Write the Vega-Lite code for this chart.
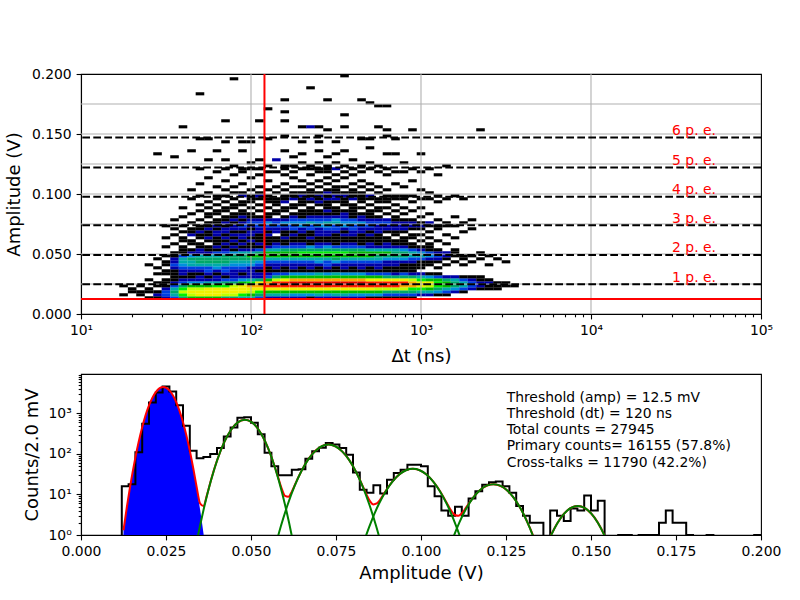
{
  "$schema": "https://vega.github.io/schema/vega-lite/v6.json",
  "padding": {"left": 5, "top": 66, "right": 5, "bottom": 5},
  "background": "white",
  "config": {
    "font": "DejaVu Sans",
    "view": {"stroke": "#000", "strokeWidth": 1.1},
    "axis": {
      "domainColor": "#000", "domainWidth": 1.1,
      "tickColor": "#000", "tickWidth": 1.1, "tickSize": 4.9,
      "labelColor": "#000", "labelFontSize": 13.9, "labelPadding": 4.9,
      "titleColor": "#000", "titleFontSize": 18, "titleFontWeight": "normal",
      "grid": false, "labelOverlap": false, "labelFlush": false
    }
  },
  "datasets": {
    "cells": [
      {"dt":17.8,"amp":0.016,"n":1},{"dt":17.8,"amp":0.0235,"n":1},
      {"dt":20,"amp":0.0185,"n":1},{"dt":20,"amp":0.021,"n":1},
      {"dt":22.4,"amp":0.016,"n":1},{"dt":22.4,"amp":0.0185,"n":1},{"dt":22.4,"amp":0.0235,"n":1},
      {"dt":25.1,"amp":0.0135,"n":1},{"dt":25.1,"amp":0.0185,"n":1},{"dt":25.1,"amp":0.021,"n":1},{"dt":25.1,"amp":0.0285,"n":1},{"dt":25.1,"amp":0.041,"n":1},
      {"dt":28.2,"amp":0.0135,"n":1},{"dt":28.2,"amp":0.016,"n":2},{"dt":28.2,"amp":0.0185,"n":1},{"dt":28.2,"amp":0.0235,"n":1},{"dt":28.2,"amp":0.026,"n":1},{"dt":28.2,"amp":0.0335,"n":1},{"dt":28.2,"amp":0.0385,"n":1},{"dt":28.2,"amp":0.046,"n":1},{"dt":28.2,"amp":0.1335,"n":1},
      {"dt":31.6,"amp":0.0135,"n":2},{"dt":31.6,"amp":0.016,"n":3},{"dt":31.6,"amp":0.0185,"n":3},{"dt":31.6,"amp":0.021,"n":2},{"dt":31.6,"amp":0.0235,"n":1},{"dt":31.6,"amp":0.026,"n":1},{"dt":31.6,"amp":0.0285,"n":1},{"dt":31.6,"amp":0.0335,"n":1},{"dt":31.6,"amp":0.036,"n":1},{"dt":31.6,"amp":0.041,"n":1},{"dt":31.6,"amp":0.0435,"n":1},{"dt":31.6,"amp":0.0485,"n":1},{"dt":31.6,"amp":0.056,"n":1},{"dt":31.6,"amp":0.0635,"n":1},{"dt":31.6,"amp":0.0735,"n":1},
      {"dt":35.5,"amp":0.0135,"n":3},{"dt":35.5,"amp":0.016,"n":6},{"dt":35.5,"amp":0.0185,"n":8},{"dt":35.5,"amp":0.021,"n":5},{"dt":35.5,"amp":0.0235,"n":3},{"dt":35.5,"amp":0.026,"n":2},{"dt":35.5,"amp":0.0285,"n":1},{"dt":35.5,"amp":0.031,"n":1},{"dt":35.5,"amp":0.0335,"n":1},{"dt":35.5,"amp":0.036,"n":1},{"dt":35.5,"amp":0.0385,"n":2},{"dt":35.5,"amp":0.041,"n":3},{"dt":35.5,"amp":0.0435,"n":2},{"dt":35.5,"amp":0.046,"n":2},{"dt":35.5,"amp":0.0485,"n":1},{"dt":35.5,"amp":0.051,"n":1},{"dt":35.5,"amp":0.0585,"n":1},{"dt":35.5,"amp":0.066,"n":1},{"dt":35.5,"amp":0.071,"n":1},{"dt":35.5,"amp":0.0785,"n":1},{"dt":35.5,"amp":0.131,"n":1},
      {"dt":39.8,"amp":0.0135,"n":8},{"dt":39.8,"amp":0.016,"n":16},{"dt":39.8,"amp":0.0185,"n":20},{"dt":39.8,"amp":0.021,"n":15},{"dt":39.8,"amp":0.0235,"n":7},{"dt":39.8,"amp":0.026,"n":3},{"dt":39.8,"amp":0.0285,"n":2},{"dt":39.8,"amp":0.031,"n":1},{"dt":39.8,"amp":0.0335,"n":2},{"dt":39.8,"amp":0.036,"n":2},{"dt":39.8,"amp":0.0385,"n":3},{"dt":39.8,"amp":0.041,"n":4},{"dt":39.8,"amp":0.0435,"n":5},{"dt":39.8,"amp":0.046,"n":5},{"dt":39.8,"amp":0.0485,"n":3},{"dt":39.8,"amp":0.051,"n":1},{"dt":39.8,"amp":0.0535,"n":1},{"dt":39.8,"amp":0.056,"n":1},{"dt":39.8,"amp":0.061,"n":1},{"dt":39.8,"amp":0.0635,"n":1},{"dt":39.8,"amp":0.0685,"n":1},{"dt":39.8,"amp":0.0735,"n":1},{"dt":39.8,"amp":0.081,"n":1},{"dt":39.8,"amp":0.0885,"n":1},{"dt":39.8,"amp":0.156,"n":1},
      {"dt":44.7,"amp":0.0135,"n":10},{"dt":44.7,"amp":0.016,"n":22},{"dt":44.7,"amp":0.0185,"n":26},{"dt":44.7,"amp":0.021,"n":20},{"dt":44.7,"amp":0.0235,"n":10},{"dt":44.7,"amp":0.026,"n":4},{"dt":44.7,"amp":0.0285,"n":2},{"dt":44.7,"amp":0.031,"n":1},{"dt":44.7,"amp":0.0335,"n":1},{"dt":44.7,"amp":0.036,"n":2},{"dt":44.7,"amp":0.0385,"n":3},{"dt":44.7,"amp":0.041,"n":5},{"dt":44.7,"amp":0.0435,"n":6},{"dt":44.7,"amp":0.046,"n":7},{"dt":44.7,"amp":0.0485,"n":4},{"dt":44.7,"amp":0.051,"n":2},{"dt":44.7,"amp":0.0535,"n":1},{"dt":44.7,"amp":0.0585,"n":1},{"dt":44.7,"amp":0.061,"n":1},{"dt":44.7,"amp":0.066,"n":2},{"dt":44.7,"amp":0.0685,"n":1},{"dt":44.7,"amp":0.071,"n":1},{"dt":44.7,"amp":0.076,"n":1},{"dt":44.7,"amp":0.0835,"n":1},{"dt":44.7,"amp":0.096,"n":1},{"dt":44.7,"amp":0.1035,"n":1},{"dt":44.7,"amp":0.136,"n":1},
      {"dt":50.1,"amp":0.0135,"n":12},{"dt":50.1,"amp":0.016,"n":25},{"dt":50.1,"amp":0.0185,"n":28},{"dt":50.1,"amp":0.021,"n":22},{"dt":50.1,"amp":0.0235,"n":12},{"dt":50.1,"amp":0.026,"n":4},{"dt":50.1,"amp":0.0285,"n":2},{"dt":50.1,"amp":0.031,"n":2},{"dt":50.1,"amp":0.0335,"n":1},{"dt":50.1,"amp":0.036,"n":2},{"dt":50.1,"amp":0.0385,"n":3},{"dt":50.1,"amp":0.041,"n":5},{"dt":50.1,"amp":0.0435,"n":7},{"dt":50.1,"amp":0.046,"n":8},{"dt":50.1,"amp":0.0485,"n":5},{"dt":50.1,"amp":0.051,"n":2},{"dt":50.1,"amp":0.0535,"n":2},{"dt":50.1,"amp":0.056,"n":1},{"dt":50.1,"amp":0.0585,"n":1},{"dt":50.1,"amp":0.0635,"n":1},{"dt":50.1,"amp":0.066,"n":1},{"dt":50.1,"amp":0.0685,"n":2},{"dt":50.1,"amp":0.071,"n":1},{"dt":50.1,"amp":0.0735,"n":1},{"dt":50.1,"amp":0.0785,"n":1},{"dt":50.1,"amp":0.086,"n":1},{"dt":50.1,"amp":0.091,"n":1},{"dt":50.1,"amp":0.0985,"n":1},{"dt":50.1,"amp":0.1085,"n":1},{"dt":50.1,"amp":0.121,"n":1},{"dt":50.1,"amp":0.146,"n":1},{"dt":50.1,"amp":0.1835,"n":1},
      {"dt":56.2,"amp":0.0135,"n":12},{"dt":56.2,"amp":0.016,"n":26},{"dt":56.2,"amp":0.0185,"n":30},{"dt":56.2,"amp":0.021,"n":25},{"dt":56.2,"amp":0.0235,"n":14},{"dt":56.2,"amp":0.026,"n":5},{"dt":56.2,"amp":0.0285,"n":2},{"dt":56.2,"amp":0.031,"n":1},{"dt":56.2,"amp":0.0335,"n":2},{"dt":56.2,"amp":0.036,"n":3},{"dt":56.2,"amp":0.0385,"n":3},{"dt":56.2,"amp":0.041,"n":5},{"dt":56.2,"amp":0.0435,"n":7},{"dt":56.2,"amp":0.046,"n":9},{"dt":56.2,"amp":0.0485,"n":6},{"dt":56.2,"amp":0.051,"n":2},{"dt":56.2,"amp":0.0535,"n":1},{"dt":56.2,"amp":0.056,"n":1},{"dt":56.2,"amp":0.061,"n":1},{"dt":56.2,"amp":0.0635,"n":2},{"dt":56.2,"amp":0.066,"n":1},{"dt":56.2,"amp":0.0685,"n":1},{"dt":56.2,"amp":0.071,"n":2},{"dt":56.2,"amp":0.0735,"n":1},{"dt":56.2,"amp":0.076,"n":1},{"dt":56.2,"amp":0.081,"n":1},{"dt":56.2,"amp":0.0835,"n":1},{"dt":56.2,"amp":0.0885,"n":1},{"dt":56.2,"amp":0.0935,"n":1},{"dt":56.2,"amp":0.101,"n":1},{"dt":56.2,"amp":0.1135,"n":1},{"dt":56.2,"amp":0.1285,"n":1},{"dt":56.2,"amp":0.146,"n":1},
      {"dt":63.1,"amp":0.0135,"n":10},{"dt":63.1,"amp":0.016,"n":25},{"dt":63.1,"amp":0.0185,"n":30},{"dt":63.1,"amp":0.021,"n":26},{"dt":63.1,"amp":0.0235,"n":15},{"dt":63.1,"amp":0.026,"n":6},{"dt":63.1,"amp":0.0285,"n":2},{"dt":63.1,"amp":0.031,"n":2},{"dt":63.1,"amp":0.0335,"n":1},{"dt":63.1,"amp":0.036,"n":2},{"dt":63.1,"amp":0.0385,"n":4},{"dt":63.1,"amp":0.041,"n":5},{"dt":63.1,"amp":0.0435,"n":7},{"dt":63.1,"amp":0.046,"n":8},{"dt":63.1,"amp":0.0485,"n":6},{"dt":63.1,"amp":0.051,"n":3},{"dt":63.1,"amp":0.0535,"n":1},{"dt":63.1,"amp":0.056,"n":2},{"dt":63.1,"amp":0.0585,"n":1},{"dt":63.1,"amp":0.061,"n":1},{"dt":63.1,"amp":0.0635,"n":1},{"dt":63.1,"amp":0.066,"n":2},{"dt":63.1,"amp":0.0685,"n":2},{"dt":63.1,"amp":0.071,"n":1},{"dt":63.1,"amp":0.0735,"n":2},{"dt":63.1,"amp":0.076,"n":1},{"dt":63.1,"amp":0.0785,"n":1},{"dt":63.1,"amp":0.0835,"n":1},{"dt":63.1,"amp":0.086,"n":1},{"dt":63.1,"amp":0.091,"n":1},{"dt":63.1,"amp":0.096,"n":1},{"dt":63.1,"amp":0.0985,"n":1},{"dt":63.1,"amp":0.106,"n":1},{"dt":63.1,"amp":0.1185,"n":1},{"dt":63.1,"amp":0.136,"n":1},
      {"dt":70.8,"amp":0.0135,"n":9},{"dt":70.8,"amp":0.016,"n":22},{"dt":70.8,"amp":0.0185,"n":30},{"dt":70.8,"amp":0.021,"n":28},{"dt":70.8,"amp":0.0235,"n":18},{"dt":70.8,"amp":0.026,"n":7},{"dt":70.8,"amp":0.0285,"n":3},{"dt":70.8,"amp":0.031,"n":1},{"dt":70.8,"amp":0.0335,"n":2},{"dt":70.8,"amp":0.036,"n":3},{"dt":70.8,"amp":0.0385,"n":3},{"dt":70.8,"amp":0.041,"n":5},{"dt":70.8,"amp":0.0435,"n":7},{"dt":70.8,"amp":0.046,"n":9},{"dt":70.8,"amp":0.0485,"n":7},{"dt":70.8,"amp":0.051,"n":3},{"dt":70.8,"amp":0.0535,"n":2},{"dt":70.8,"amp":0.056,"n":1},{"dt":70.8,"amp":0.0585,"n":2},{"dt":70.8,"amp":0.061,"n":1},{"dt":70.8,"amp":0.0635,"n":2},{"dt":70.8,"amp":0.066,"n":1},{"dt":70.8,"amp":0.0685,"n":2},{"dt":70.8,"amp":0.071,"n":2},{"dt":70.8,"amp":0.0735,"n":1},{"dt":70.8,"amp":0.076,"n":2},{"dt":70.8,"amp":0.0785,"n":1},{"dt":70.8,"amp":0.081,"n":1},{"dt":70.8,"amp":0.086,"n":1},{"dt":70.8,"amp":0.0885,"n":1},{"dt":70.8,"amp":0.0935,"n":1},{"dt":70.8,"amp":0.0985,"n":1},{"dt":70.8,"amp":0.1035,"n":1},{"dt":70.8,"amp":0.111,"n":1},{"dt":70.8,"amp":0.121,"n":1},{"dt":70.8,"amp":0.1285,"n":1},{"dt":70.8,"amp":0.1435,"n":1},{"dt":70.8,"amp":0.161,"n":1},
      {"dt":79.4,"amp":0.0135,"n":7},{"dt":79.4,"amp":0.016,"n":20},{"dt":79.4,"amp":0.0185,"n":28},{"dt":79.4,"amp":0.021,"n":30},{"dt":79.4,"amp":0.0235,"n":22},{"dt":79.4,"amp":0.026,"n":9},{"dt":79.4,"amp":0.0285,"n":3},{"dt":79.4,"amp":0.031,"n":2},{"dt":79.4,"amp":0.0335,"n":2},{"dt":79.4,"amp":0.036,"n":2},{"dt":79.4,"amp":0.0385,"n":3},{"dt":79.4,"amp":0.041,"n":4},{"dt":79.4,"amp":0.0435,"n":6},{"dt":79.4,"amp":0.046,"n":9},{"dt":79.4,"amp":0.0485,"n":8},{"dt":79.4,"amp":0.051,"n":4},{"dt":79.4,"amp":0.0535,"n":1},{"dt":79.4,"amp":0.056,"n":2},{"dt":79.4,"amp":0.0585,"n":1},{"dt":79.4,"amp":0.061,"n":2},{"dt":79.4,"amp":0.0635,"n":1},{"dt":79.4,"amp":0.066,"n":2},{"dt":79.4,"amp":0.0685,"n":1},{"dt":79.4,"amp":0.071,"n":2},{"dt":79.4,"amp":0.0735,"n":2},{"dt":79.4,"amp":0.076,"n":1},{"dt":79.4,"amp":0.0785,"n":2},{"dt":79.4,"amp":0.081,"n":1},{"dt":79.4,"amp":0.0835,"n":1},{"dt":79.4,"amp":0.0885,"n":1},{"dt":79.4,"amp":0.091,"n":1},{"dt":79.4,"amp":0.096,"n":1},{"dt":79.4,"amp":0.101,"n":1},{"dt":79.4,"amp":0.106,"n":1},{"dt":79.4,"amp":0.116,"n":1},{"dt":79.4,"amp":0.1235,"n":1},{"dt":79.4,"amp":0.196,"n":1},
      {"dt":89.1,"amp":0.0135,"n":6},{"dt":89.1,"amp":0.016,"n":15},{"dt":89.1,"amp":0.0185,"n":26},{"dt":89.1,"amp":0.021,"n":32},{"dt":89.1,"amp":0.0235,"n":28},{"dt":89.1,"amp":0.026,"n":12},{"dt":89.1,"amp":0.0285,"n":4},{"dt":89.1,"amp":0.031,"n":2},{"dt":89.1,"amp":0.0335,"n":1},{"dt":89.1,"amp":0.036,"n":2},{"dt":89.1,"amp":0.0385,"n":3},{"dt":89.1,"amp":0.041,"n":4},{"dt":89.1,"amp":0.0435,"n":6},{"dt":89.1,"amp":0.046,"n":9},{"dt":89.1,"amp":0.0485,"n":9},{"dt":89.1,"amp":0.051,"n":5},{"dt":89.1,"amp":0.0535,"n":2},{"dt":89.1,"amp":0.056,"n":1},{"dt":89.1,"amp":0.0585,"n":2},{"dt":89.1,"amp":0.061,"n":1},{"dt":89.1,"amp":0.0635,"n":2},{"dt":89.1,"amp":0.066,"n":2},{"dt":89.1,"amp":0.0685,"n":1},{"dt":89.1,"amp":0.071,"n":2},{"dt":89.1,"amp":0.0735,"n":3},{"dt":89.1,"amp":0.076,"n":2},{"dt":89.1,"amp":0.0785,"n":1},{"dt":89.1,"amp":0.081,"n":2},{"dt":89.1,"amp":0.0835,"n":1},{"dt":89.1,"amp":0.086,"n":1},{"dt":89.1,"amp":0.091,"n":1},{"dt":89.1,"amp":0.0935,"n":1},{"dt":89.1,"amp":0.0985,"n":2},{"dt":89.1,"amp":0.101,"n":1},{"dt":89.1,"amp":0.1085,"n":1},{"dt":89.1,"amp":0.1185,"n":1},{"dt":89.1,"amp":0.121,"n":1},{"dt":89.1,"amp":0.136,"n":1},{"dt":89.1,"amp":0.1435,"n":1},
      {"dt":100,"amp":0.0135,"n":5},{"dt":100,"amp":0.016,"n":12},{"dt":100,"amp":0.0185,"n":22},{"dt":100,"amp":0.021,"n":33},{"dt":100,"amp":0.0235,"n":36},{"dt":100,"amp":0.026,"n":18},{"dt":100,"amp":0.0285,"n":5},{"dt":100,"amp":0.031,"n":2},{"dt":100,"amp":0.0335,"n":2},{"dt":100,"amp":0.036,"n":2},{"dt":100,"amp":0.0385,"n":2},{"dt":100,"amp":0.041,"n":4},{"dt":100,"amp":0.0435,"n":5},{"dt":100,"amp":0.046,"n":8},{"dt":100,"amp":0.0485,"n":10},{"dt":100,"amp":0.051,"n":6},{"dt":100,"amp":0.0535,"n":2},{"dt":100,"amp":0.056,"n":1},{"dt":100,"amp":0.0585,"n":1},{"dt":100,"amp":0.061,"n":2},{"dt":100,"amp":0.0635,"n":1},{"dt":100,"amp":0.066,"n":2},{"dt":100,"amp":0.0685,"n":2},{"dt":100,"amp":0.071,"n":1},{"dt":100,"amp":0.0735,"n":2},{"dt":100,"amp":0.076,"n":3},{"dt":100,"amp":0.0785,"n":2},{"dt":100,"amp":0.081,"n":1},{"dt":100,"amp":0.0835,"n":1},{"dt":100,"amp":0.0885,"n":1},{"dt":100,"amp":0.0935,"n":1},{"dt":100,"amp":0.096,"n":1},{"dt":100,"amp":0.0985,"n":1},{"dt":100,"amp":0.1035,"n":1},{"dt":100,"amp":0.1135,"n":1},{"dt":100,"amp":0.121,"n":1},{"dt":100,"amp":0.126,"n":1},{"dt":100,"amp":0.1435,"n":1},
      {"dt":112,"amp":0.0135,"n":3},{"dt":112,"amp":0.016,"n":8},{"dt":112,"amp":0.0185,"n":18},{"dt":112,"amp":0.021,"n":32},{"dt":112,"amp":0.0235,"n":42},{"dt":112,"amp":0.026,"n":26},{"dt":112,"amp":0.0285,"n":7},{"dt":112,"amp":0.031,"n":2},{"dt":112,"amp":0.0335,"n":2},{"dt":112,"amp":0.036,"n":1},{"dt":112,"amp":0.0385,"n":2},{"dt":112,"amp":0.041,"n":3},{"dt":112,"amp":0.0435,"n":4},{"dt":112,"amp":0.046,"n":7},{"dt":112,"amp":0.0485,"n":10},{"dt":112,"amp":0.051,"n":8},{"dt":112,"amp":0.0535,"n":3},{"dt":112,"amp":0.056,"n":1},{"dt":112,"amp":0.0585,"n":2},{"dt":112,"amp":0.061,"n":1},{"dt":112,"amp":0.0635,"n":1},{"dt":112,"amp":0.066,"n":1},{"dt":112,"amp":0.0685,"n":2},{"dt":112,"amp":0.071,"n":2},{"dt":112,"amp":0.0735,"n":3},{"dt":112,"amp":0.076,"n":3},{"dt":112,"amp":0.0785,"n":2},{"dt":112,"amp":0.081,"n":1},{"dt":112,"amp":0.086,"n":1},{"dt":112,"amp":0.091,"n":1},{"dt":112,"amp":0.096,"n":1},{"dt":112,"amp":0.0985,"n":2},{"dt":112,"amp":0.101,"n":1},{"dt":112,"amp":0.106,"n":1},{"dt":112,"amp":0.116,"n":1},{"dt":112,"amp":0.121,"n":1},{"dt":112,"amp":0.1285,"n":1},{"dt":112,"amp":0.161,"n":1},
      {"dt":126,"amp":0.0135,"n":2},{"dt":126,"amp":0.016,"n":5},{"dt":126,"amp":0.0185,"n":14},{"dt":126,"amp":0.021,"n":30},{"dt":126,"amp":0.0235,"n":50},{"dt":126,"amp":0.026,"n":38},{"dt":126,"amp":0.0285,"n":12},{"dt":126,"amp":0.031,"n":3},{"dt":126,"amp":0.0335,"n":2},{"dt":126,"amp":0.036,"n":1},{"dt":126,"amp":0.0385,"n":1},{"dt":126,"amp":0.041,"n":2},{"dt":126,"amp":0.0435,"n":3},{"dt":126,"amp":0.046,"n":6},{"dt":126,"amp":0.0485,"n":10},{"dt":126,"amp":0.051,"n":11},{"dt":126,"amp":0.0535,"n":5},{"dt":126,"amp":0.056,"n":2},{"dt":126,"amp":0.0585,"n":1},{"dt":126,"amp":0.061,"n":1},{"dt":126,"amp":0.0635,"n":1},{"dt":126,"amp":0.066,"n":2},{"dt":126,"amp":0.0685,"n":1},{"dt":126,"amp":0.071,"n":2},{"dt":126,"amp":0.0735,"n":3},{"dt":126,"amp":0.076,"n":4},{"dt":126,"amp":0.0785,"n":2},{"dt":126,"amp":0.081,"n":1},{"dt":126,"amp":0.0835,"n":1},{"dt":126,"amp":0.0885,"n":1},{"dt":126,"amp":0.0935,"n":1},{"dt":126,"amp":0.096,"n":1},{"dt":126,"amp":0.0985,"n":1},{"dt":126,"amp":0.1035,"n":1},{"dt":126,"amp":0.111,"n":1},{"dt":126,"amp":0.1185,"n":1},{"dt":126,"amp":0.1235,"n":1},{"dt":126,"amp":0.146,"n":1},{"dt":126,"amp":0.171,"n":1},
      {"dt":141,"amp":0.0135,"n":2},{"dt":141,"amp":0.016,"n":5},{"dt":141,"amp":0.0185,"n":13},{"dt":141,"amp":0.021,"n":28},{"dt":141,"amp":0.0235,"n":48},{"dt":141,"amp":0.026,"n":46},{"dt":141,"amp":0.0285,"n":22},{"dt":141,"amp":0.031,"n":8},{"dt":141,"amp":0.0335,"n":3},{"dt":141,"amp":0.036,"n":1},{"dt":141,"amp":0.0385,"n":2},{"dt":141,"amp":0.041,"n":2},{"dt":141,"amp":0.0435,"n":3},{"dt":141,"amp":0.046,"n":5},{"dt":141,"amp":0.0485,"n":10},{"dt":141,"amp":0.051,"n":11},{"dt":141,"amp":0.0535,"n":6},{"dt":141,"amp":0.056,"n":3},{"dt":141,"amp":0.0585,"n":2},{"dt":141,"amp":0.061,"n":1},{"dt":141,"amp":0.0635,"n":1},{"dt":141,"amp":0.0685,"n":2},{"dt":141,"amp":0.071,"n":2},{"dt":141,"amp":0.0735,"n":3},{"dt":141,"amp":0.076,"n":3},{"dt":141,"amp":0.0785,"n":2},{"dt":141,"amp":0.0835,"n":1},{"dt":141,"amp":0.086,"n":1},{"dt":141,"amp":0.091,"n":1},{"dt":141,"amp":0.0935,"n":1},{"dt":141,"amp":0.096,"n":1},{"dt":141,"amp":0.101,"n":1},{"dt":141,"amp":0.106,"n":1},{"dt":141,"amp":0.1185,"n":1},{"dt":141,"amp":0.1285,"n":2},
      {"dt":158,"amp":0.0135,"n":2},{"dt":158,"amp":0.016,"n":5},{"dt":158,"amp":0.0185,"n":12},{"dt":158,"amp":0.021,"n":27},{"dt":158,"amp":0.0235,"n":52},{"dt":158,"amp":0.026,"n":56},{"dt":158,"amp":0.0285,"n":30},{"dt":158,"amp":0.031,"n":10},{"dt":158,"amp":0.0335,"n":3},{"dt":158,"amp":0.036,"n":1},{"dt":158,"amp":0.0385,"n":1},{"dt":158,"amp":0.041,"n":2},{"dt":158,"amp":0.0435,"n":3},{"dt":158,"amp":0.046,"n":5},{"dt":158,"amp":0.0485,"n":11},{"dt":158,"amp":0.051,"n":12},{"dt":158,"amp":0.0535,"n":7},{"dt":158,"amp":0.056,"n":3},{"dt":158,"amp":0.0585,"n":1},{"dt":158,"amp":0.061,"n":1},{"dt":158,"amp":0.0635,"n":2},{"dt":158,"amp":0.066,"n":1},{"dt":158,"amp":0.0685,"n":1},{"dt":158,"amp":0.071,"n":2},{"dt":158,"amp":0.0735,"n":3},{"dt":158,"amp":0.076,"n":4},{"dt":158,"amp":0.0785,"n":2},{"dt":158,"amp":0.081,"n":1},{"dt":158,"amp":0.086,"n":1},{"dt":158,"amp":0.0885,"n":1},{"dt":158,"amp":0.0935,"n":2},{"dt":158,"amp":0.096,"n":1},{"dt":158,"amp":0.0985,"n":1},{"dt":158,"amp":0.1035,"n":1},{"dt":158,"amp":0.1085,"n":1},{"dt":158,"amp":0.116,"n":1},{"dt":158,"amp":0.121,"n":1},{"dt":158,"amp":0.1235,"n":1},{"dt":158,"amp":0.136,"n":1},{"dt":158,"amp":0.1485,"n":1},{"dt":158,"amp":0.161,"n":1},{"dt":158,"amp":0.1685,"n":1},{"dt":158,"amp":0.1785,"n":1},
      {"dt":178,"amp":0.0135,"n":2},{"dt":178,"amp":0.016,"n":4},{"dt":178,"amp":0.0185,"n":12},{"dt":178,"amp":0.021,"n":26},{"dt":178,"amp":0.0235,"n":54},{"dt":178,"amp":0.026,"n":62},{"dt":178,"amp":0.0285,"n":36},{"dt":178,"amp":0.031,"n":12},{"dt":178,"amp":0.0335,"n":4},{"dt":178,"amp":0.036,"n":1},{"dt":178,"amp":0.0385,"n":2},{"dt":178,"amp":0.041,"n":2},{"dt":178,"amp":0.0435,"n":3},{"dt":178,"amp":0.046,"n":6},{"dt":178,"amp":0.0485,"n":10},{"dt":178,"amp":0.051,"n":14},{"dt":178,"amp":0.0535,"n":8},{"dt":178,"amp":0.056,"n":3},{"dt":178,"amp":0.0585,"n":2},{"dt":178,"amp":0.061,"n":1},{"dt":178,"amp":0.0635,"n":1},{"dt":178,"amp":0.066,"n":2},{"dt":178,"amp":0.0685,"n":1},{"dt":178,"amp":0.071,"n":3},{"dt":178,"amp":0.0735,"n":3},{"dt":178,"amp":0.076,"n":4},{"dt":178,"amp":0.0785,"n":3},{"dt":178,"amp":0.081,"n":2},{"dt":178,"amp":0.0835,"n":1},{"dt":178,"amp":0.0885,"n":1},{"dt":178,"amp":0.091,"n":1},{"dt":178,"amp":0.096,"n":2},{"dt":178,"amp":0.0985,"n":1},{"dt":178,"amp":0.101,"n":1},{"dt":178,"amp":0.106,"n":1},{"dt":178,"amp":0.1135,"n":1},{"dt":178,"amp":0.1185,"n":1},{"dt":178,"amp":0.1235,"n":1},{"dt":178,"amp":0.131,"n":1},
      {"dt":200,"amp":0.0135,"n":2},{"dt":200,"amp":0.016,"n":4},{"dt":200,"amp":0.0185,"n":11},{"dt":200,"amp":0.021,"n":27},{"dt":200,"amp":0.0235,"n":56},{"dt":200,"amp":0.026,"n":66},{"dt":200,"amp":0.0285,"n":38},{"dt":200,"amp":0.031,"n":12},{"dt":200,"amp":0.0335,"n":4},{"dt":200,"amp":0.036,"n":1},{"dt":200,"amp":0.0385,"n":1},{"dt":200,"amp":0.041,"n":2},{"dt":200,"amp":0.0435,"n":3},{"dt":200,"amp":0.046,"n":6},{"dt":200,"amp":0.0485,"n":11},{"dt":200,"amp":0.051,"n":15},{"dt":200,"amp":0.0535,"n":8},{"dt":200,"amp":0.056,"n":3},{"dt":200,"amp":0.0585,"n":2},{"dt":200,"amp":0.061,"n":1},{"dt":200,"amp":0.0635,"n":1},{"dt":200,"amp":0.066,"n":1},{"dt":200,"amp":0.0685,"n":2},{"dt":200,"amp":0.071,"n":2},{"dt":200,"amp":0.0735,"n":4},{"dt":200,"amp":0.076,"n":4},{"dt":200,"amp":0.0785,"n":3},{"dt":200,"amp":0.081,"n":1},{"dt":200,"amp":0.0835,"n":1},{"dt":200,"amp":0.086,"n":1},{"dt":200,"amp":0.091,"n":1},{"dt":200,"amp":0.0935,"n":1},{"dt":200,"amp":0.096,"n":1},{"dt":200,"amp":0.0985,"n":2},{"dt":200,"amp":0.101,"n":1},{"dt":200,"amp":0.106,"n":1},{"dt":200,"amp":0.111,"n":1},{"dt":200,"amp":0.121,"n":1},{"dt":200,"amp":0.126,"n":1},{"dt":200,"amp":0.1335,"n":1},{"dt":200,"amp":0.1435,"n":1},{"dt":200,"amp":0.156,"n":1},
      {"dt":224,"amp":0.0135,"n":1},{"dt":224,"amp":0.016,"n":4},{"dt":224,"amp":0.0185,"n":11},{"dt":224,"amp":0.021,"n":28},{"dt":224,"amp":0.0235,"n":58},{"dt":224,"amp":0.026,"n":68},{"dt":224,"amp":0.0285,"n":40},{"dt":224,"amp":0.031,"n":13},{"dt":224,"amp":0.0335,"n":4},{"dt":224,"amp":0.036,"n":1},{"dt":224,"amp":0.0385,"n":2},{"dt":224,"amp":0.041,"n":2},{"dt":224,"amp":0.0435,"n":3},{"dt":224,"amp":0.046,"n":5},{"dt":224,"amp":0.0485,"n":12},{"dt":224,"amp":0.051,"n":16},{"dt":224,"amp":0.0535,"n":9},{"dt":224,"amp":0.056,"n":4},{"dt":224,"amp":0.0585,"n":1},{"dt":224,"amp":0.061,"n":1},{"dt":224,"amp":0.0635,"n":2},{"dt":224,"amp":0.066,"n":1},{"dt":224,"amp":0.0685,"n":1},{"dt":224,"amp":0.071,"n":3},{"dt":224,"amp":0.0735,"n":3},{"dt":224,"amp":0.076,"n":5},{"dt":224,"amp":0.0785,"n":3},{"dt":224,"amp":0.081,"n":2},{"dt":224,"amp":0.0835,"n":1},{"dt":224,"amp":0.086,"n":1},{"dt":224,"amp":0.0885,"n":1},{"dt":224,"amp":0.0935,"n":1},{"dt":224,"amp":0.096,"n":2},{"dt":224,"amp":0.0985,"n":1},{"dt":224,"amp":0.101,"n":1},{"dt":224,"amp":0.1035,"n":1},{"dt":224,"amp":0.1085,"n":1},{"dt":224,"amp":0.116,"n":1},{"dt":224,"amp":0.121,"n":1},{"dt":224,"amp":0.1235,"n":1},{"dt":224,"amp":0.156,"n":2},{"dt":224,"amp":0.1885,"n":1},
      {"dt":251,"amp":0.0135,"n":2},{"dt":251,"amp":0.016,"n":5},{"dt":251,"amp":0.0185,"n":12},{"dt":251,"amp":0.021,"n":28},{"dt":251,"amp":0.0235,"n":57},{"dt":251,"amp":0.026,"n":70},{"dt":251,"amp":0.0285,"n":40},{"dt":251,"amp":0.031,"n":14},{"dt":251,"amp":0.0335,"n":5},{"dt":251,"amp":0.036,"n":1},{"dt":251,"amp":0.0385,"n":1},{"dt":251,"amp":0.041,"n":2},{"dt":251,"amp":0.0435,"n":4},{"dt":251,"amp":0.046,"n":6},{"dt":251,"amp":0.0485,"n":12},{"dt":251,"amp":0.051,"n":15},{"dt":251,"amp":0.0535,"n":9},{"dt":251,"amp":0.056,"n":3},{"dt":251,"amp":0.0585,"n":2},{"dt":251,"amp":0.061,"n":1},{"dt":251,"amp":0.0635,"n":1},{"dt":251,"amp":0.066,"n":2},{"dt":251,"amp":0.0685,"n":2},{"dt":251,"amp":0.071,"n":2},{"dt":251,"amp":0.0735,"n":4},{"dt":251,"amp":0.076,"n":4},{"dt":251,"amp":0.0785,"n":3},{"dt":251,"amp":0.081,"n":2},{"dt":251,"amp":0.0835,"n":1},{"dt":251,"amp":0.086,"n":1},{"dt":251,"amp":0.091,"n":1},{"dt":251,"amp":0.0935,"n":2},{"dt":251,"amp":0.096,"n":1},{"dt":251,"amp":0.0985,"n":2},{"dt":251,"amp":0.101,"n":1},{"dt":251,"amp":0.106,"n":1},{"dt":251,"amp":0.111,"n":1},{"dt":251,"amp":0.1185,"n":1},{"dt":251,"amp":0.121,"n":1},{"dt":251,"amp":0.126,"n":1},{"dt":251,"amp":0.136,"n":1},{"dt":251,"amp":0.1435,"n":1},{"dt":251,"amp":0.1485,"n":1},{"dt":251,"amp":0.156,"n":1},
      {"dt":282,"amp":0.0135,"n":2},{"dt":282,"amp":0.016,"n":4},{"dt":282,"amp":0.0185,"n":12},{"dt":282,"amp":0.021,"n":29},{"dt":282,"amp":0.0235,"n":55},{"dt":282,"amp":0.026,"n":70},{"dt":282,"amp":0.0285,"n":42},{"dt":282,"amp":0.031,"n":14},{"dt":282,"amp":0.0335,"n":4},{"dt":282,"amp":0.036,"n":1},{"dt":282,"amp":0.0385,"n":2},{"dt":282,"amp":0.041,"n":3},{"dt":282,"amp":0.0435,"n":3},{"dt":282,"amp":0.046,"n":6},{"dt":282,"amp":0.0485,"n":13},{"dt":282,"amp":0.051,"n":16},{"dt":282,"amp":0.0535,"n":8},{"dt":282,"amp":0.056,"n":4},{"dt":282,"amp":0.0585,"n":2},{"dt":282,"amp":0.061,"n":1},{"dt":282,"amp":0.0635,"n":1},{"dt":282,"amp":0.066,"n":2},{"dt":282,"amp":0.0685,"n":2},{"dt":282,"amp":0.071,"n":3},{"dt":282,"amp":0.0735,"n":4},{"dt":282,"amp":0.076,"n":5},{"dt":282,"amp":0.0785,"n":3},{"dt":282,"amp":0.081,"n":2},{"dt":282,"amp":0.0835,"n":1},{"dt":282,"amp":0.086,"n":2},{"dt":282,"amp":0.0885,"n":1},{"dt":282,"amp":0.091,"n":1},{"dt":282,"amp":0.0935,"n":1},{"dt":282,"amp":0.096,"n":2},{"dt":282,"amp":0.0985,"n":1},{"dt":282,"amp":0.101,"n":2},{"dt":282,"amp":0.1035,"n":1},{"dt":282,"amp":0.1085,"n":1},{"dt":282,"amp":0.1135,"n":1},{"dt":282,"amp":0.1185,"n":1},{"dt":282,"amp":0.121,"n":1},{"dt":282,"amp":0.1235,"n":1},{"dt":282,"amp":0.131,"n":1},{"dt":282,"amp":0.1535,"n":1},{"dt":282,"amp":0.1785,"n":1},
      {"dt":316,"amp":0.0135,"n":2},{"dt":316,"amp":0.016,"n":5},{"dt":316,"amp":0.0185,"n":13},{"dt":316,"amp":0.021,"n":30},{"dt":316,"amp":0.0235,"n":58},{"dt":316,"amp":0.026,"n":72},{"dt":316,"amp":0.0285,"n":42},{"dt":316,"amp":0.031,"n":14},{"dt":316,"amp":0.0335,"n":5},{"dt":316,"amp":0.036,"n":1},{"dt":316,"amp":0.0385,"n":1},{"dt":316,"amp":0.041,"n":2},{"dt":316,"amp":0.0435,"n":4},{"dt":316,"amp":0.046,"n":7},{"dt":316,"amp":0.0485,"n":12},{"dt":316,"amp":0.051,"n":16},{"dt":316,"amp":0.0535,"n":9},{"dt":316,"amp":0.056,"n":3},{"dt":316,"amp":0.0585,"n":1},{"dt":316,"amp":0.061,"n":1},{"dt":316,"amp":0.0635,"n":1},{"dt":316,"amp":0.066,"n":1},{"dt":316,"amp":0.0685,"n":2},{"dt":316,"amp":0.071,"n":3},{"dt":316,"amp":0.0735,"n":3},{"dt":316,"amp":0.076,"n":5},{"dt":316,"amp":0.0785,"n":4},{"dt":316,"amp":0.081,"n":2},{"dt":316,"amp":0.0835,"n":1},{"dt":316,"amp":0.086,"n":1},{"dt":316,"amp":0.0885,"n":1},{"dt":316,"amp":0.0935,"n":1},{"dt":316,"amp":0.096,"n":2},{"dt":316,"amp":0.0985,"n":2},{"dt":316,"amp":0.101,"n":1},{"dt":316,"amp":0.1035,"n":1},{"dt":316,"amp":0.106,"n":1},{"dt":316,"amp":0.111,"n":1},{"dt":316,"amp":0.116,"n":1},{"dt":316,"amp":0.121,"n":2},{"dt":316,"amp":0.126,"n":1},{"dt":316,"amp":0.1335,"n":1},{"dt":316,"amp":0.1435,"n":1},
      {"dt":355,"amp":0.0135,"n":2},{"dt":355,"amp":0.016,"n":5},{"dt":355,"amp":0.0185,"n":12},{"dt":355,"amp":0.021,"n":28},{"dt":355,"amp":0.0235,"n":56},{"dt":355,"amp":0.026,"n":68},{"dt":355,"amp":0.0285,"n":40},{"dt":355,"amp":0.031,"n":13},{"dt":355,"amp":0.0335,"n":4},{"dt":355,"amp":0.036,"n":1},{"dt":355,"amp":0.0385,"n":2},{"dt":355,"amp":0.041,"n":2},{"dt":355,"amp":0.0435,"n":3},{"dt":355,"amp":0.046,"n":6},{"dt":355,"amp":0.0485,"n":12},{"dt":355,"amp":0.051,"n":15},{"dt":355,"amp":0.0535,"n":8},{"dt":355,"amp":0.056,"n":3},{"dt":355,"amp":0.0585,"n":2},{"dt":355,"amp":0.061,"n":1},{"dt":355,"amp":0.0635,"n":1},{"dt":355,"amp":0.066,"n":2},{"dt":355,"amp":0.0685,"n":1},{"dt":355,"amp":0.071,"n":2},{"dt":355,"amp":0.0735,"n":4},{"dt":355,"amp":0.076,"n":4},{"dt":355,"amp":0.0785,"n":3},{"dt":355,"amp":0.081,"n":2},{"dt":355,"amp":0.0835,"n":2},{"dt":355,"amp":0.086,"n":1},{"dt":355,"amp":0.091,"n":1},{"dt":355,"amp":0.0935,"n":1},{"dt":355,"amp":0.096,"n":1},{"dt":355,"amp":0.0985,"n":2},{"dt":355,"amp":0.101,"n":1},{"dt":355,"amp":0.106,"n":1},{"dt":355,"amp":0.1135,"n":1},{"dt":355,"amp":0.1185,"n":1},{"dt":355,"amp":0.1235,"n":1},{"dt":355,"amp":0.136,"n":1},{"dt":355,"amp":0.156,"n":1},{"dt":355,"amp":0.166,"n":1},{"dt":355,"amp":0.1985,"n":1},
      {"dt":398,"amp":0.0135,"n":2},{"dt":398,"amp":0.016,"n":4},{"dt":398,"amp":0.0185,"n":12},{"dt":398,"amp":0.021,"n":27},{"dt":398,"amp":0.0235,"n":55},{"dt":398,"amp":0.026,"n":66},{"dt":398,"amp":0.0285,"n":38},{"dt":398,"amp":0.031,"n":12},{"dt":398,"amp":0.0335,"n":4},{"dt":398,"amp":0.036,"n":1},{"dt":398,"amp":0.0385,"n":1},{"dt":398,"amp":0.041,"n":2},{"dt":398,"amp":0.0435,"n":3},{"dt":398,"amp":0.046,"n":6},{"dt":398,"amp":0.0485,"n":11},{"dt":398,"amp":0.051,"n":14},{"dt":398,"amp":0.0535,"n":8},{"dt":398,"amp":0.056,"n":3},{"dt":398,"amp":0.0585,"n":2},{"dt":398,"amp":0.061,"n":1},{"dt":398,"amp":0.0635,"n":1},{"dt":398,"amp":0.066,"n":2},{"dt":398,"amp":0.0685,"n":2},{"dt":398,"amp":0.071,"n":3},{"dt":398,"amp":0.0735,"n":3},{"dt":398,"amp":0.076,"n":4},{"dt":398,"amp":0.0785,"n":3},{"dt":398,"amp":0.081,"n":1},{"dt":398,"amp":0.0835,"n":1},{"dt":398,"amp":0.086,"n":1},{"dt":398,"amp":0.0885,"n":1},{"dt":398,"amp":0.091,"n":1},{"dt":398,"amp":0.096,"n":2},{"dt":398,"amp":0.0985,"n":1},{"dt":398,"amp":0.101,"n":1},{"dt":398,"amp":0.1035,"n":1},{"dt":398,"amp":0.1085,"n":1},{"dt":398,"amp":0.116,"n":1},{"dt":398,"amp":0.121,"n":1},{"dt":398,"amp":0.1285,"n":1},
      {"dt":447,"amp":0.0135,"n":2},{"dt":447,"amp":0.016,"n":4},{"dt":447,"amp":0.0185,"n":11},{"dt":447,"amp":0.021,"n":26},{"dt":447,"amp":0.0235,"n":54},{"dt":447,"amp":0.026,"n":62},{"dt":447,"amp":0.0285,"n":36},{"dt":447,"amp":0.031,"n":12},{"dt":447,"amp":0.0335,"n":4},{"dt":447,"amp":0.036,"n":1},{"dt":447,"amp":0.0385,"n":2},{"dt":447,"amp":0.041,"n":2},{"dt":447,"amp":0.0435,"n":3},{"dt":447,"amp":0.046,"n":5},{"dt":447,"amp":0.0485,"n":10},{"dt":447,"amp":0.051,"n":13},{"dt":447,"amp":0.0535,"n":7},{"dt":447,"amp":0.056,"n":3},{"dt":447,"amp":0.0585,"n":1},{"dt":447,"amp":0.061,"n":1},{"dt":447,"amp":0.0635,"n":1},{"dt":447,"amp":0.066,"n":1},{"dt":447,"amp":0.0685,"n":2},{"dt":447,"amp":0.071,"n":2},{"dt":447,"amp":0.0735,"n":3},{"dt":447,"amp":0.076,"n":4},{"dt":447,"amp":0.0785,"n":2},{"dt":447,"amp":0.081,"n":2},{"dt":447,"amp":0.0835,"n":1},{"dt":447,"amp":0.0885,"n":1},{"dt":447,"amp":0.0935,"n":1},{"dt":447,"amp":0.096,"n":1},{"dt":447,"amp":0.0985,"n":1},{"dt":447,"amp":0.101,"n":1},{"dt":447,"amp":0.106,"n":1},{"dt":447,"amp":0.111,"n":1},{"dt":447,"amp":0.1185,"n":1},{"dt":447,"amp":0.1235,"n":1},{"dt":447,"amp":0.146,"n":1},{"dt":447,"amp":0.1785,"n":1},
      {"dt":501,"amp":0.0135,"n":1},{"dt":501,"amp":0.016,"n":4},{"dt":501,"amp":0.0185,"n":10},{"dt":501,"amp":0.021,"n":25},{"dt":501,"amp":0.0235,"n":52},{"dt":501,"amp":0.026,"n":58},{"dt":501,"amp":0.0285,"n":34},{"dt":501,"amp":0.031,"n":11},{"dt":501,"amp":0.0335,"n":3},{"dt":501,"amp":0.036,"n":1},{"dt":501,"amp":0.0385,"n":1},{"dt":501,"amp":0.041,"n":2},{"dt":501,"amp":0.0435,"n":3},{"dt":501,"amp":0.046,"n":5},{"dt":501,"amp":0.0485,"n":10},{"dt":501,"amp":0.051,"n":12},{"dt":501,"amp":0.0535,"n":6},{"dt":501,"amp":0.056,"n":2},{"dt":501,"amp":0.0585,"n":2},{"dt":501,"amp":0.061,"n":1},{"dt":501,"amp":0.0635,"n":1},{"dt":501,"amp":0.066,"n":2},{"dt":501,"amp":0.0685,"n":1},{"dt":501,"amp":0.071,"n":2},{"dt":501,"amp":0.0735,"n":3},{"dt":501,"amp":0.076,"n":3},{"dt":501,"amp":0.0785,"n":2},{"dt":501,"amp":0.081,"n":1},{"dt":501,"amp":0.0835,"n":1},{"dt":501,"amp":0.086,"n":1},{"dt":501,"amp":0.091,"n":1},{"dt":501,"amp":0.096,"n":1},{"dt":501,"amp":0.0985,"n":2},{"dt":501,"amp":0.1035,"n":1},{"dt":501,"amp":0.1085,"n":1},{"dt":501,"amp":0.121,"n":1},{"dt":501,"amp":0.126,"n":1},{"dt":501,"amp":0.1385,"n":1},{"dt":501,"amp":0.146,"n":1},{"dt":501,"amp":0.176,"n":1},
      {"dt":562,"amp":0.0135,"n":1},{"dt":562,"amp":0.016,"n":4},{"dt":562,"amp":0.0185,"n":10},{"dt":562,"amp":0.021,"n":24},{"dt":562,"amp":0.0235,"n":48},{"dt":562,"amp":0.026,"n":56},{"dt":562,"amp":0.0285,"n":32},{"dt":562,"amp":0.031,"n":10},{"dt":562,"amp":0.0335,"n":3},{"dt":562,"amp":0.036,"n":1},{"dt":562,"amp":0.0385,"n":2},{"dt":562,"amp":0.041,"n":2},{"dt":562,"amp":0.0435,"n":3},{"dt":562,"amp":0.046,"n":5},{"dt":562,"amp":0.0485,"n":9},{"dt":562,"amp":0.051,"n":11},{"dt":562,"amp":0.0535,"n":6},{"dt":562,"amp":0.056,"n":2},{"dt":562,"amp":0.0585,"n":1},{"dt":562,"amp":0.061,"n":1},{"dt":562,"amp":0.0635,"n":1},{"dt":562,"amp":0.066,"n":1},{"dt":562,"amp":0.0685,"n":2},{"dt":562,"amp":0.071,"n":2},{"dt":562,"amp":0.0735,"n":2},{"dt":562,"amp":0.076,"n":3},{"dt":562,"amp":0.0785,"n":2},{"dt":562,"amp":0.081,"n":1},{"dt":562,"amp":0.086,"n":1},{"dt":562,"amp":0.0885,"n":1},{"dt":562,"amp":0.0935,"n":1},{"dt":562,"amp":0.096,"n":1},{"dt":562,"amp":0.101,"n":1},{"dt":562,"amp":0.106,"n":1},{"dt":562,"amp":0.1185,"n":1},{"dt":562,"amp":0.1235,"n":1},{"dt":562,"amp":0.156,"n":1},{"dt":562,"amp":0.1735,"n":1},
      {"dt":631,"amp":0.0135,"n":1},{"dt":631,"amp":0.016,"n":3},{"dt":631,"amp":0.0185,"n":9},{"dt":631,"amp":0.021,"n":24},{"dt":631,"amp":0.0235,"n":48},{"dt":631,"amp":0.026,"n":54},{"dt":631,"amp":0.0285,"n":30},{"dt":631,"amp":0.031,"n":9},{"dt":631,"amp":0.0335,"n":3},{"dt":631,"amp":0.036,"n":1},{"dt":631,"amp":0.0385,"n":1},{"dt":631,"amp":0.041,"n":2},{"dt":631,"amp":0.0435,"n":2},{"dt":631,"amp":0.046,"n":4},{"dt":631,"amp":0.0485,"n":8},{"dt":631,"amp":0.051,"n":10},{"dt":631,"amp":0.0535,"n":5},{"dt":631,"amp":0.056,"n":2},{"dt":631,"amp":0.0585,"n":2},{"dt":631,"amp":0.061,"n":1},{"dt":631,"amp":0.0635,"n":1},{"dt":631,"amp":0.0685,"n":1},{"dt":631,"amp":0.071,"n":2},{"dt":631,"amp":0.0735,"n":2},{"dt":631,"amp":0.076,"n":3},{"dt":631,"amp":0.0785,"n":2},{"dt":631,"amp":0.0835,"n":1},{"dt":631,"amp":0.0885,"n":1},{"dt":631,"amp":0.0935,"n":1},{"dt":631,"amp":0.096,"n":1},{"dt":631,"amp":0.0985,"n":1},{"dt":631,"amp":0.1035,"n":1},{"dt":631,"amp":0.116,"n":1},{"dt":631,"amp":0.121,"n":1},{"dt":631,"amp":0.1335,"n":1},{"dt":631,"amp":0.1485,"n":1},{"dt":631,"amp":0.1535,"n":1},{"dt":631,"amp":0.1735,"n":1},
      {"dt":708,"amp":0.0135,"n":1},{"dt":708,"amp":0.016,"n":3},{"dt":708,"amp":0.0185,"n":9},{"dt":708,"amp":0.021,"n":22},{"dt":708,"amp":0.0235,"n":46},{"dt":708,"amp":0.026,"n":52},{"dt":708,"amp":0.0285,"n":28},{"dt":708,"amp":0.031,"n":8},{"dt":708,"amp":0.0335,"n":2},{"dt":708,"amp":0.036,"n":1},{"dt":708,"amp":0.0385,"n":1},{"dt":708,"amp":0.041,"n":2},{"dt":708,"amp":0.0435,"n":2},{"dt":708,"amp":0.046,"n":4},{"dt":708,"amp":0.0485,"n":7},{"dt":708,"amp":0.051,"n":9},{"dt":708,"amp":0.0535,"n":5},{"dt":708,"amp":0.056,"n":2},{"dt":708,"amp":0.0585,"n":1},{"dt":708,"amp":0.061,"n":1},{"dt":708,"amp":0.066,"n":1},{"dt":708,"amp":0.0685,"n":1},{"dt":708,"amp":0.071,"n":2},{"dt":708,"amp":0.0735,"n":2},{"dt":708,"amp":0.076,"n":2},{"dt":708,"amp":0.0785,"n":1},{"dt":708,"amp":0.081,"n":1},{"dt":708,"amp":0.086,"n":1},{"dt":708,"amp":0.091,"n":1},{"dt":708,"amp":0.096,"n":1},{"dt":708,"amp":0.0985,"n":1},{"dt":708,"amp":0.1085,"n":1},{"dt":708,"amp":0.1185,"n":1},{"dt":708,"amp":0.1335,"n":1},{"dt":708,"amp":0.146,"n":1},
      {"dt":794,"amp":0.0135,"n":1},{"dt":794,"amp":0.016,"n":3},{"dt":794,"amp":0.0185,"n":8},{"dt":794,"amp":0.021,"n":20},{"dt":794,"amp":0.0235,"n":42},{"dt":794,"amp":0.026,"n":48},{"dt":794,"amp":0.0285,"n":26},{"dt":794,"amp":0.031,"n":8},{"dt":794,"amp":0.0335,"n":3},{"dt":794,"amp":0.036,"n":1},{"dt":794,"amp":0.0385,"n":1},{"dt":794,"amp":0.041,"n":1},{"dt":794,"amp":0.0435,"n":2},{"dt":794,"amp":0.046,"n":4},{"dt":794,"amp":0.0485,"n":7},{"dt":794,"amp":0.051,"n":8},{"dt":794,"amp":0.0535,"n":4},{"dt":794,"amp":0.056,"n":2},{"dt":794,"amp":0.0585,"n":1},{"dt":794,"amp":0.061,"n":1},{"dt":794,"amp":0.0635,"n":1},{"dt":794,"amp":0.0685,"n":1},{"dt":794,"amp":0.071,"n":2},{"dt":794,"amp":0.0735,"n":2},{"dt":794,"amp":0.076,"n":2},{"dt":794,"amp":0.0785,"n":1},{"dt":794,"amp":0.0835,"n":1},{"dt":794,"amp":0.0885,"n":1},{"dt":794,"amp":0.096,"n":1},{"dt":794,"amp":0.0985,"n":1},{"dt":794,"amp":0.106,"n":1},{"dt":794,"amp":0.1185,"n":1},{"dt":794,"amp":0.126,"n":1},
      {"dt":891,"amp":0.0135,"n":1},{"dt":891,"amp":0.016,"n":3},{"dt":891,"amp":0.0185,"n":7},{"dt":891,"amp":0.021,"n":18},{"dt":891,"amp":0.0235,"n":36},{"dt":891,"amp":0.026,"n":40},{"dt":891,"amp":0.0285,"n":22},{"dt":891,"amp":0.031,"n":7},{"dt":891,"amp":0.0335,"n":2},{"dt":891,"amp":0.036,"n":1},{"dt":891,"amp":0.0385,"n":1},{"dt":891,"amp":0.041,"n":1},{"dt":891,"amp":0.0435,"n":2},{"dt":891,"amp":0.046,"n":3},{"dt":891,"amp":0.0485,"n":6},{"dt":891,"amp":0.051,"n":6},{"dt":891,"amp":0.0535,"n":3},{"dt":891,"amp":0.056,"n":1},{"dt":891,"amp":0.0585,"n":1},{"dt":891,"amp":0.0635,"n":1},{"dt":891,"amp":0.066,"n":1},{"dt":891,"amp":0.071,"n":1},{"dt":891,"amp":0.0735,"n":2},{"dt":891,"amp":0.076,"n":2},{"dt":891,"amp":0.0785,"n":1},{"dt":891,"amp":0.086,"n":1},{"dt":891,"amp":0.0935,"n":1},{"dt":891,"amp":0.0985,"n":1},{"dt":891,"amp":0.111,"n":1},{"dt":891,"amp":0.121,"n":1},{"dt":891,"amp":0.1535,"n":1},
      {"dt":1000,"amp":0.016,"n":2},{"dt":1000,"amp":0.0185,"n":6},{"dt":1000,"amp":0.021,"n":15},{"dt":1000,"amp":0.0235,"n":30},{"dt":1000,"amp":0.026,"n":34},{"dt":1000,"amp":0.0285,"n":18},{"dt":1000,"amp":0.031,"n":5},{"dt":1000,"amp":0.0335,"n":2},{"dt":1000,"amp":0.0385,"n":1},{"dt":1000,"amp":0.041,"n":1},{"dt":1000,"amp":0.0435,"n":1},{"dt":1000,"amp":0.046,"n":3},{"dt":1000,"amp":0.0485,"n":5},{"dt":1000,"amp":0.051,"n":4},{"dt":1000,"amp":0.0535,"n":2},{"dt":1000,"amp":0.056,"n":1},{"dt":1000,"amp":0.061,"n":1},{"dt":1000,"amp":0.066,"n":1},{"dt":1000,"amp":0.071,"n":1},{"dt":1000,"amp":0.0735,"n":2},{"dt":1000,"amp":0.076,"n":1},{"dt":1000,"amp":0.081,"n":1},{"dt":1000,"amp":0.0885,"n":1},{"dt":1000,"amp":0.096,"n":1},{"dt":1000,"amp":0.1035,"n":1},{"dt":1000,"amp":0.1185,"n":1},{"dt":1000,"amp":0.1335,"n":1},
      {"dt":1122,"amp":0.016,"n":2},{"dt":1122,"amp":0.0185,"n":5},{"dt":1122,"amp":0.021,"n":12},{"dt":1122,"amp":0.0235,"n":22},{"dt":1122,"amp":0.026,"n":25},{"dt":1122,"amp":0.0285,"n":14},{"dt":1122,"amp":0.031,"n":4},{"dt":1122,"amp":0.0335,"n":1},{"dt":1122,"amp":0.041,"n":1},{"dt":1122,"amp":0.0435,"n":1},{"dt":1122,"amp":0.046,"n":2},{"dt":1122,"amp":0.0485,"n":4},{"dt":1122,"amp":0.051,"n":3},{"dt":1122,"amp":0.0535,"n":1},{"dt":1122,"amp":0.056,"n":1},{"dt":1122,"amp":0.0585,"n":1},{"dt":1122,"amp":0.0635,"n":1},{"dt":1122,"amp":0.0685,"n":1},{"dt":1122,"amp":0.0735,"n":1},{"dt":1122,"amp":0.076,"n":2},{"dt":1122,"amp":0.0835,"n":1},{"dt":1122,"amp":0.096,"n":1},{"dt":1122,"amp":0.101,"n":1},{"dt":1122,"amp":0.121,"n":1},
      {"dt":1259,"amp":0.016,"n":1},{"dt":1259,"amp":0.0185,"n":4},{"dt":1259,"amp":0.021,"n":9},{"dt":1259,"amp":0.0235,"n":16},{"dt":1259,"amp":0.026,"n":18},{"dt":1259,"amp":0.0285,"n":10},{"dt":1259,"amp":0.031,"n":3},{"dt":1259,"amp":0.0335,"n":1},{"dt":1259,"amp":0.0385,"n":1},{"dt":1259,"amp":0.0435,"n":1},{"dt":1259,"amp":0.046,"n":2},{"dt":1259,"amp":0.0485,"n":3},{"dt":1259,"amp":0.051,"n":2},{"dt":1259,"amp":0.0535,"n":1},{"dt":1259,"amp":0.061,"n":1},{"dt":1259,"amp":0.071,"n":1},{"dt":1259,"amp":0.0735,"n":1},{"dt":1259,"amp":0.0785,"n":1},{"dt":1259,"amp":0.0935,"n":1},{"dt":1259,"amp":0.0985,"n":1},{"dt":1259,"amp":0.116,"n":1},
      {"dt":1413,"amp":0.016,"n":1},{"dt":1413,"amp":0.0185,"n":3},{"dt":1413,"amp":0.021,"n":6},{"dt":1413,"amp":0.0235,"n":11},{"dt":1413,"amp":0.026,"n":12},{"dt":1413,"amp":0.0285,"n":7},{"dt":1413,"amp":0.031,"n":2},{"dt":1413,"amp":0.041,"n":1},{"dt":1413,"amp":0.046,"n":1},{"dt":1413,"amp":0.0485,"n":2},{"dt":1413,"amp":0.051,"n":2},{"dt":1413,"amp":0.0585,"n":1},{"dt":1413,"amp":0.066,"n":1},{"dt":1413,"amp":0.0735,"n":1},{"dt":1413,"amp":0.076,"n":1},{"dt":1413,"amp":0.096,"n":1},{"dt":1413,"amp":0.1235,"n":1},
      {"dt":1585,"amp":0.0185,"n":2},{"dt":1585,"amp":0.021,"n":4},{"dt":1585,"amp":0.0235,"n":7},{"dt":1585,"amp":0.026,"n":8},{"dt":1585,"amp":0.0285,"n":5},{"dt":1585,"amp":0.031,"n":2},{"dt":1585,"amp":0.0435,"n":1},{"dt":1585,"amp":0.0485,"n":1},{"dt":1585,"amp":0.051,"n":1},{"dt":1585,"amp":0.0535,"n":1},{"dt":1585,"amp":0.0635,"n":1},{"dt":1585,"amp":0.0735,"n":1},{"dt":1585,"amp":0.081,"n":1},{"dt":1585,"amp":0.0985,"n":1},
      {"dt":1778,"amp":0.0185,"n":1},{"dt":1778,"amp":0.021,"n":3},{"dt":1778,"amp":0.0235,"n":5},{"dt":1778,"amp":0.026,"n":5},{"dt":1778,"amp":0.0285,"n":3},{"dt":1778,"amp":0.031,"n":1},{"dt":1778,"amp":0.041,"n":1},{"dt":1778,"amp":0.046,"n":1},{"dt":1778,"amp":0.0485,"n":1},{"dt":1778,"amp":0.0685,"n":1},{"dt":1778,"amp":0.076,"n":1},{"dt":1778,"amp":0.096,"n":1},
      {"dt":1995,"amp":0.021,"n":2},{"dt":1995,"amp":0.0235,"n":3},{"dt":1995,"amp":0.026,"n":3},{"dt":1995,"amp":0.0285,"n":2},{"dt":1995,"amp":0.031,"n":1},{"dt":1995,"amp":0.0435,"n":1},{"dt":1995,"amp":0.0485,"n":1},{"dt":1995,"amp":0.071,"n":1},{"dt":1995,"amp":0.0785,"n":1},
      {"dt":2239,"amp":0.021,"n":1},{"dt":2239,"amp":0.0235,"n":2},{"dt":2239,"amp":0.026,"n":2},{"dt":2239,"amp":0.0285,"n":1},{"dt":2239,"amp":0.031,"n":1},{"dt":2239,"amp":0.046,"n":1},{"dt":2239,"amp":0.051,"n":1},{"dt":2239,"amp":0.1535,"n":1},
      {"dt":2512,"amp":0.021,"n":1},{"dt":2512,"amp":0.0235,"n":1},{"dt":2512,"amp":0.026,"n":2},{"dt":2512,"amp":0.0285,"n":1},{"dt":2512,"amp":0.041,"n":1},{"dt":2512,"amp":0.0485,"n":1},
      {"dt":2818,"amp":0.021,"n":1},{"dt":2818,"amp":0.0235,"n":1},{"dt":2818,"amp":0.026,"n":1},{"dt":2818,"amp":0.046,"n":1},
      {"dt":3162,"amp":0.0235,"n":1},{"dt":3162,"amp":0.026,"n":1},{"dt":3162,"amp":0.0435,"n":1},
      {"dt":3548,"amp":0.0235,"n":1}
    ],
    "hgrid": [
      {"amp":0.025},{"amp":0.05},{"amp":0.075},{"amp":0.1},{"amp":0.125},{"amp":0.15},{"amp":0.175}
    ],
    "vgrid": [
      {"dt":100},{"dt":1000},{"dt":10000}
    ],
    "levels": [
      {"amp":0.0247,"label":"1 p. e."},
      {"amp":0.0492,"label":"2 p. e."},
      {"amp":0.0739,"label":"3 p. e."},
      {"amp":0.0977,"label":"4 p. e."},
      {"amp":0.122,"label":"5 p. e."},
      {"amp":0.1471,"label":"6 p. e."}
    ],
    "cuts": [
      {"dt":120,"amp":0.0125}
    ],
    "hist": [
      {"amp":0.010,"counts":0.01},{"amp":0.012,"counts":16},{"amp":0.014,"counts":18},{"amp":0.016,"counts":110},{"amp":0.018,"counts":560},
      {"amp":0.020,"counts":1850},{"amp":0.022,"counts":3300},{"amp":0.024,"counts":4600},{"amp":0.026,"counts":3500},{"amp":0.028,"counts":1600},
      {"amp":0.030,"counts":500},{"amp":0.032,"counts":120},{"amp":0.034,"counts":78},{"amp":0.036,"counts":84},{"amp":0.038,"counts":100},
      {"amp":0.040,"counts":140},{"amp":0.042,"counts":270},{"amp":0.044,"counts":450},{"amp":0.046,"counts":780},{"amp":0.048,"counts":800},
      {"amp":0.050,"counts":590},{"amp":0.052,"counts":305},{"amp":0.054,"counts":107},{"amp":0.056,"counts":50},{"amp":0.058,"counts":30},
      {"amp":0.060,"counts":30},{"amp":0.062,"counts":41},{"amp":0.064,"counts":42},{"amp":0.066,"counts":76},{"amp":0.068,"counts":116},
      {"amp":0.070,"counts":142},{"amp":0.072,"counts":187},{"amp":0.074,"counts":172},{"amp":0.076,"counts":140},{"amp":0.078,"counts":95},
      {"amp":0.080,"counts":35},{"amp":0.082,"counts":13},{"amp":0.084,"counts":11},{"amp":0.086,"counts":17},{"amp":0.088,"counts":10.5},
      {"amp":0.090,"counts":23},{"amp":0.092,"counts":34},{"amp":0.094,"counts":41},{"amp":0.096,"counts":54},{"amp":0.098,"counts":54},
      {"amp":0.100,"counts":50},{"amp":0.102,"counts":16},{"amp":0.104,"counts":9},{"amp":0.106,"counts":4},{"amp":0.108,"counts":3},
      {"amp":0.110,"counts":5},{"amp":0.112,"counts":3},{"amp":0.114,"counts":8},{"amp":0.116,"counts":12},{"amp":0.118,"counts":17.5},
      {"amp":0.120,"counts":20},{"amp":0.122,"counts":21},{"amp":0.124,"counts":16},{"amp":0.126,"counts":11},{"amp":0.128,"counts":5.2},
      {"amp":0.130,"counts":3},{"amp":0.132,"counts":2},{"amp":0.134,"counts":2},{"amp":0.136,"counts":0.01},{"amp":0.138,"counts":4},
      {"amp":0.140,"counts":3},{"amp":0.142,"counts":2.2},{"amp":0.144,"counts":4.5},{"amp":0.146,"counts":4},{"amp":0.148,"counts":9.5},
      {"amp":0.150,"counts":4},{"amp":0.152,"counts":7},{"amp":0.154,"counts":0.01},{"amp":0.156,"counts":0.01},{"amp":0.158,"counts":1},
      {"amp":0.160,"counts":1},{"amp":0.162,"counts":0.01},{"amp":0.164,"counts":1},{"amp":0.166,"counts":1},{"amp":0.168,"counts":1},
      {"amp":0.170,"counts":2},{"amp":0.172,"counts":4},{"amp":0.174,"counts":2},{"amp":0.176,"counts":2},{"amp":0.178,"counts":1},
      {"amp":0.180,"counts":0.01},{"amp":0.182,"counts":0.01},{"amp":0.184,"counts":1},{"amp":0.186,"counts":0.01},{"amp":0.188,"counts":0.01},
      {"amp":0.190,"counts":0.01},{"amp":0.192,"counts":0.01},{"amp":0.194,"counts":0.01},{"amp":0.196,"counts":0.01},{"amp":0.198,"counts":1},
      {"amp":0.200,"counts":1}
    ],
    "primary": [
      {"amp":0.0125,"counts":1.31},{"amp":0.0135,"counts":4.98},{"amp":0.0145,"counts":16.7},{"amp":0.016,"counts":82.6},{"amp":0.018,"counts":458},
      {"amp":0.020,"counts":1576},{"amp":0.022,"counts":3373},{"amp":0.0242,"counts":4500},{"amp":0.026,"counts":3710},{"amp":0.028,"counts":1906},
      {"amp":0.030,"counts":609},{"amp":0.032,"counts":121},{"amp":0.033,"counts":45},{"amp":0.034,"counts":14.9},{"amp":0.035,"counts":4.39},
      {"amp":0.036,"counts":1.14},{"amp":0.037,"counts":0.26}
    ],
    "fit": [
      {"amp":0.0125,"counts":1.31},{"amp":0.0135,"counts":4.98},{"amp":0.0145,"counts":16.7},{"amp":0.016,"counts":82.6},{"amp":0.018,"counts":458},
      {"amp":0.020,"counts":1576},{"amp":0.022,"counts":3373},{"amp":0.0242,"counts":4500},{"amp":0.026,"counts":3710},{"amp":0.028,"counts":1906},
      {"amp":0.030,"counts":609},{"amp":0.032,"counts":121},{"amp":0.033,"counts":45.2},{"amp":0.034,"counts":15.6},{"amp":0.035,"counts":6.07},
      {"amp":0.036,"counts":5.19},{"amp":0.037,"counts":9.36},{"amp":0.038,"counts":19.2},{"amp":0.040,"counts":68.2},{"amp":0.042,"counts":185},
      {"amp":0.044,"counts":380},{"amp":0.046,"counts":592},{"amp":0.0482,"counts":700},{"amp":0.050,"counts":626},{"amp":0.052,"counts":425},
      {"amp":0.054,"counts":218},{"amp":0.056,"counts":85.3},{"amp":0.058,"counts":26.1},{"amp":0.059,"counts":14.2},{"amp":0.060,"counts":9.18},
      {"amp":0.061,"counts":8.74},{"amp":0.062,"counts":11.76},{"amp":0.063,"counts":17.9},{"amp":0.064,"counts":27.3},{"amp":0.066,"counts":57},
      {"amp":0.068,"counts":98.5},{"amp":0.070,"counts":141},{"amp":0.0728,"counts":170},{"amp":0.074,"counts":164},{"amp":0.076,"counts":133},
      {"amp":0.078,"counts":89.7},{"amp":0.080,"counts":50},{"amp":0.082,"counts":23.3},{"amp":0.083,"counts":15.1},{"amp":0.084,"counts":9.83},
      {"amp":0.085,"counts":6.84},{"amp":0.086,"counts":5.68},{"amp":0.087,"counts":5.99},{"amp":0.088,"counts":7.52},{"amp":0.089,"counts":10.1},
      {"amp":0.090,"counts":13.7},{"amp":0.092,"counts":22.9},{"amp":0.094,"counts":33.1},{"amp":0.0976,"counts":43},{"amp":0.100,"counts":38.3},
      {"amp":0.102,"counts":29.2},{"amp":0.105,"counts":14.4},{"amp":0.107,"counts":7.55},{"amp":0.108,"counts":5.33},{"amp":0.109,"counts":3.86},
      {"amp":0.110,"counts":3.11},{"amp":0.111,"counts":2.98},{"amp":0.112,"counts":3.43},{"amp":0.113,"counts":4.4},{"amp":0.114,"counts":5.85},
      {"amp":0.116,"counts":9.78},{"amp":0.118,"counts":14.2},{"amp":0.1213,"counts":18},{"amp":0.124,"counts":15.4},{"amp":0.126,"counts":11.1},
      {"amp":0.128,"counts":6.79},{"amp":0.130,"counts":3.48},{"amp":0.132,"counts":1.52},{"amp":0.134,"counts":0.64},{"amp":0.136,"counts":0.5},
      {"amp":0.138,"counts":0.92},{"amp":0.140,"counts":1.9},{"amp":0.142,"counts":3.3},{"amp":0.1461,"counts":5.2},{"amp":0.150,"counts":3.45},
      {"amp":0.154,"counts":0.96},{"amp":0.158,"counts":0.106}
    ],
    "peaks": [
      {"pe":2,"amp":0.0322,"counts":0.099},{"pe":2,"amp":0.0332,"counts":0.29},{"pe":2,"amp":0.0342,"counts":0.79},{"pe":2,"amp":0.0352,"counts":2.01},{"pe":2,"amp":0.0362,"counts":4.78},{"pe":2,"amp":0.0382,"counts":21.9},{"pe":2,"amp":0.0402,"counts":76.3},{"pe":2,"amp":0.0422,"counts":201},{"pe":2,"amp":0.0442,"counts":402},{"pe":2,"amp":0.0462,"counts":609},{"pe":2,"amp":0.0482,"counts":700},{"pe":2,"amp":0.0502,"counts":609},{"pe":2,"amp":0.0522,"counts":402},{"pe":2,"amp":0.0542,"counts":201},{"pe":2,"amp":0.0562,"counts":76.3},{"pe":2,"amp":0.0582,"counts":21.9},{"pe":2,"amp":0.0602,"counts":4.78},{"pe":2,"amp":0.0612,"counts":2.01},{"pe":2,"amp":0.0622,"counts":0.79},{"pe":2,"amp":0.0632,"counts":0.29},{"pe":2,"amp":0.0642,"counts":0.099},
      {"pe":3,"amp":0.0558,"counts":0.18},{"pe":3,"amp":0.0568,"counts":0.4},{"pe":3,"amp":0.0588,"counts":1.66},{"pe":3,"amp":0.0608,"counts":5.65},{"pe":3,"amp":0.0628,"counts":16},{"pe":3,"amp":0.0648,"counts":37.4},{"pe":3,"amp":0.0668,"counts":72.5},{"pe":3,"amp":0.0688,"counts":116},{"pe":3,"amp":0.0708,"counts":155},{"pe":3,"amp":0.0728,"counts":170},{"pe":3,"amp":0.0748,"counts":155},{"pe":3,"amp":0.0768,"counts":116},{"pe":3,"amp":0.0788,"counts":72.5},{"pe":3,"amp":0.0808,"counts":37.4},{"pe":3,"amp":0.0828,"counts":16},{"pe":3,"amp":0.0848,"counts":5.65},{"pe":3,"amp":0.0868,"counts":1.66},{"pe":3,"amp":0.0888,"counts":0.4},{"pe":3,"amp":0.0898,"counts":0.18},
      {"pe":4,"amp":0.0796,"counts":0.066},{"pe":4,"amp":0.0816,"counts":0.26},{"pe":4,"amp":0.0836,"counts":0.85},{"pe":4,"amp":0.0856,"counts":2.41},{"pe":4,"amp":0.0876,"counts":5.81},{"pe":4,"amp":0.0896,"counts":11.9},{"pe":4,"amp":0.0916,"counts":20.9},{"pe":4,"amp":0.0936,"counts":31.2},{"pe":4,"amp":0.0956,"counts":39.7},{"pe":4,"amp":0.0976,"counts":43},{"pe":4,"amp":0.0996,"counts":39.7},{"pe":4,"amp":0.1016,"counts":31.2},{"pe":4,"amp":0.1036,"counts":20.9},{"pe":4,"amp":0.1056,"counts":11.9},{"pe":4,"amp":0.1076,"counts":5.81},{"pe":4,"amp":0.1096,"counts":2.41},{"pe":4,"amp":0.1116,"counts":0.85},{"pe":4,"amp":0.1136,"counts":0.26},{"pe":4,"amp":0.1156,"counts":0.066},
      {"pe":5,"amp":0.1053,"counts":0.07},{"pe":5,"amp":0.1073,"counts":0.26},{"pe":5,"amp":0.1093,"counts":0.79},{"pe":5,"amp":0.1113,"counts":2.05},{"pe":5,"amp":0.1133,"counts":4.48},{"pe":5,"amp":0.1153,"counts":8.23},{"pe":5,"amp":0.1173,"counts":12.7},{"pe":5,"amp":0.1193,"counts":16.5},{"pe":5,"amp":0.1213,"counts":18},{"pe":5,"amp":0.1233,"counts":16.5},{"pe":5,"amp":0.1253,"counts":12.7},{"pe":5,"amp":0.1273,"counts":8.23},{"pe":5,"amp":0.1293,"counts":4.48},{"pe":5,"amp":0.1313,"counts":2.05},{"pe":5,"amp":0.1333,"counts":0.79},{"pe":5,"amp":0.1353,"counts":0.26},{"pe":5,"amp":0.1373,"counts":0.07},
      {"pe":6,"amp":0.1341,"counts":0.106},{"pe":6,"amp":0.1361,"counts":0.35},{"pe":6,"amp":0.1381,"counts":0.92},{"pe":6,"amp":0.1401,"counts":1.96},{"pe":6,"amp":0.1421,"counts":3.37},{"pe":6,"amp":0.1441,"counts":4.67},{"pe":6,"amp":0.1461,"counts":5.2},{"pe":6,"amp":0.1481,"counts":4.67},{"pe":6,"amp":0.1501,"counts":3.37},{"pe":6,"amp":0.1521,"counts":1.96},{"pe":6,"amp":0.1541,"counts":0.92},{"pe":6,"amp":0.1561,"counts":0.35},{"pe":6,"amp":0.1581,"counts":0.106}
    ],
    "notes": [
      {"amp":0.1252,"counts":2432,"line":"Threshold (amp) = 12.5 mV"},
      {"amp":0.1252,"counts":968,"line":"Threshold (dt) = 120 ns"},
      {"amp":0.1252,"counts":386,"line":"Total counts = 27945"},
      {"amp":0.1252,"counts":154,"line":"Primary counts= 16155 (57.8%)"},
      {"amp":0.1252,"counts":61.2,"line":"Cross-talks = 11790 (42.2%)"}
    ]
  },
  "spacing": 60,
  "bounds": "flush",
  "vconcat": [
    {
      "width": 680,
      "height": 240,
      "layer": [
        {
          "data": {"name": "cells"},
          "mark": {"type": "rect", "width": 8.6, "height": 3.1, "clip": true},
          "encoding": {
            "x": {
              "field": "dt", "type": "quantitative", "title": "Δt (ns)",
              "scale": {"type": "log", "domain": [10, 100000], "nice": false},
              "axis": {
                "values": [10,20,30,40,50,60,70,80,90,100,200,300,400,500,600,700,800,900,1000,2000,3000,4000,5000,6000,7000,8000,9000,10000,20000,30000,40000,50000,60000,70000,80000,90000,100000],
                "labelExpr": "datum.value == 10 ? '10¹' : datum.value == 100 ? '10²' : datum.value == 1000 ? '10³' : datum.value == 10000 ? '10⁴' : datum.value == 100000 ? '10⁵' : ''",
                "tickSize": {"condition": {"test": "datum.value == 10 || datum.value == 100 || datum.value == 1000 || datum.value == 10000 || datum.value == 100000", "value": 4.9}, "value": 2.8},
                "titlePadding": 10
              }
            },
            "y": {
              "field": "amp", "type": "quantitative", "title": "Amplitude (V)",
              "scale": {"domain": [0, 0.2], "nice": false, "zero": false},
              "axis": {
                "values": [0,0.025,0.05,0.075,0.1,0.125,0.15,0.175,0.2],
                "format": ".3f",
                "titlePadding": 7.5
              }
            },
            "color": {
              "field": "n", "type": "quantitative", "legend": null,
              "scale": {
                "type": "threshold",
                "domain": [2,3,4,5,7,10,15,20,25,35,45,60],
                "range": ["#000000","#0000a8","#0040e0","#0090dd","#00aaaa","#00a868","#00bb00","#00f000","#c0ff00","#f0f000","#ffa800","#ff1a00","#e00000"]
              }
            }
          }
        },
        {
          "data": {"name": "hgrid"},
          "mark": {"type": "rule", "color": "#b0b0b0", "strokeWidth": 1.1},
          "encoding": {"y": {"field": "amp", "type": "quantitative", "title": "Amplitude (V)"}}
        },
        {
          "data": {"name": "vgrid"},
          "mark": {"type": "rule", "color": "#b0b0b0", "strokeWidth": 1.1},
          "encoding": {"x": {"field": "dt", "type": "quantitative", "title": "Δt (ns)"}}
        },
        {
          "data": {"name": "levels"},
          "mark": {"type": "rule", "color": "#000000", "strokeWidth": 2, "strokeDash": [7.7, 3.3]},
          "encoding": {"y": {"field": "amp", "type": "quantitative", "title": "Amplitude (V)"}}
        },
        {
          "data": {"name": "levels"},
          "mark": {"type": "text", "color": "#ff0000", "fontSize": 13.9, "align": "left", "baseline": "alphabetic", "dy": -2.5},
          "encoding": {
            "x": {"datum": 30000},
            "y": {"field": "amp", "type": "quantitative", "title": "Amplitude (V)"},
            "text": {"field": "label"}
          }
        },
        {
          "data": {"name": "cuts"},
          "mark": {"type": "rule", "color": "#ff0000", "strokeWidth": 2},
          "encoding": {"x": {"field": "dt", "type": "quantitative", "title": "Δt (ns)"}}
        },
        {
          "data": {"name": "cuts"},
          "mark": {"type": "rule", "color": "#ff0000", "strokeWidth": 2},
          "encoding": {"y": {"field": "amp", "type": "quantitative", "title": "Amplitude (V)"}}
        }
      ]
    },
    {
      "width": 680,
      "height": 161,
      "layer": [
        {
          "data": {"name": "primary"},
          "mark": {"type": "area", "color": "#0000ff", "interpolate": "monotone", "clip": true},
          "encoding": {
            "x": {
              "field": "amp", "type": "quantitative", "title": "Amplitude (V)",
              "scale": {"domain": [0, 0.2], "nice": false},
              "axis": {"values": [0,0.025,0.05,0.075,0.1,0.125,0.15,0.175,0.2], "format": ".3f", "titlePadding": 5.5}
            },
            "y": {
              "field": "counts", "type": "quantitative", "title": "Counts/2.0 mV",
              "scale": {"type": "log", "domain": [1, 9400], "nice": false},
              "axis": {
                "values": [1,2,3,4,5,6,7,8,9,10,20,30,40,50,60,70,80,90,100,200,300,400,500,600,700,800,900,1000,2000,3000,4000,5000,6000,7000,8000,9000],
                "labelExpr": "datum.value == 1 ? '10⁰' : datum.value == 10 ? '10¹' : datum.value == 100 ? '10²' : datum.value == 1000 ? '10³' : ''",
                "tickSize": {"condition": {"test": "datum.value == 1 || datum.value == 10 || datum.value == 100 || datum.value == 1000", "value": 4.9}, "value": 2.8},
                "titlePadding": 6
              }
            },
            "y2": {"datum": 1}
          }
        },
        {
          "data": {"name": "hist"},
          "mark": {"type": "line", "color": "#000000", "strokeWidth": 2, "interpolate": "step-after", "clip": true},
          "encoding": {
            "x": {"field": "amp", "type": "quantitative", "title": "Amplitude (V)"},
            "y": {"field": "counts", "type": "quantitative", "title": "Counts/2.0 mV"}
          }
        },
        {
          "data": {"name": "fit"},
          "mark": {"type": "line", "color": "#ff0000", "strokeWidth": 2, "interpolate": "monotone", "clip": true},
          "encoding": {
            "x": {"field": "amp", "type": "quantitative", "title": "Amplitude (V)"},
            "y": {"field": "counts", "type": "quantitative", "title": "Counts/2.0 mV"}
          }
        },
        {
          "data": {"name": "peaks"},
          "mark": {"type": "line", "color": "#008000", "strokeWidth": 2, "interpolate": "monotone", "clip": true},
          "encoding": {
            "x": {"field": "amp", "type": "quantitative", "title": "Amplitude (V)"},
            "y": {"field": "counts", "type": "quantitative", "title": "Counts/2.0 mV"},
            "detail": {"field": "pe", "type": "nominal"}
          }
        },
        {
          "data": {"name": "notes"},
          "mark": {"type": "text", "align": "left", "baseline": "middle", "fontSize": 13.9, "color": "#000000"},
          "encoding": {
            "x": {"field": "amp", "type": "quantitative", "title": "Amplitude (V)"},
            "y": {"field": "counts", "type": "quantitative", "title": "Counts/2.0 mV"},
            "text": {"field": "line"}
          }
        }
      ]
    }
  ]
}
